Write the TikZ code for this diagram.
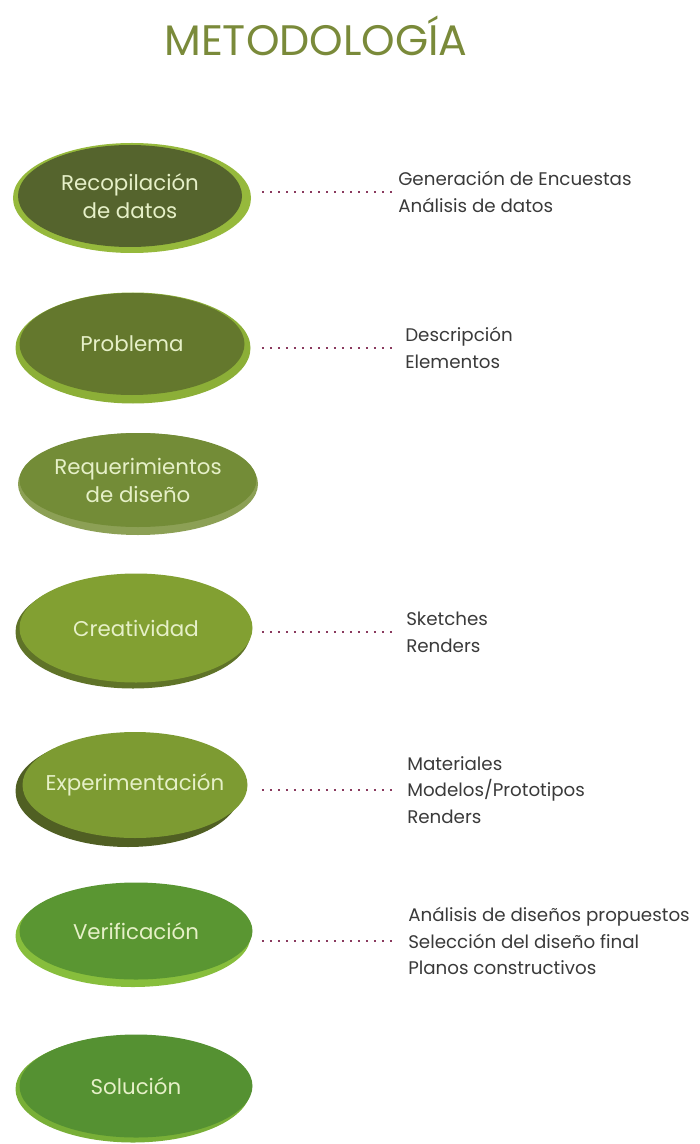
\documentclass[tikz,border=0pt]{standalone}
\usepackage{fontspec}
\setmainfont{Poppins}
\usepackage{tikz}
\usetikzlibrary{shapes.geometric}

\definecolor{titulo}{HTML}{7A8A3A}
\definecolor{txtclaro}{HTML}{E6F0C8}
\definecolor{gris}{HTML}{3A3A3A}
\definecolor{punto}{HTML}{8A3A5E}
\definecolor{recfr}{HTML}{55642D}
\definecolor{recbk}{HTML}{96B93C}
\definecolor{profr}{HTML}{64782D}
\definecolor{probk}{HTML}{8CAF37}
\definecolor{reqfr}{HTML}{738C37}
\definecolor{reqbk}{HTML}{8CA055}
\definecolor{crefr}{HTML}{82A032}
\definecolor{crebk}{HTML}{5F7328}
\definecolor{expfr}{HTML}{7D9B32}
\definecolor{expbk}{HTML}{505F23}
\definecolor{verfr}{HTML}{5A9632}
\definecolor{verbk}{HTML}{87BE3C}
\definecolor{solfr}{HTML}{559132}
\definecolor{solbk}{HTML}{78AF37}

\tikzset{
  etapa/.style={ellipse, inner xsep=-15pt, inner ysep=0pt, text=txtclaro, align=center, font=\fontsize{16}{21}\selectfont},
  fondo/.style={ellipse, inner sep=0pt},
  puntos/.style={draw=punto, line width=1.4pt, dash pattern=on 1.4pt off 4.6pt},
  lista/.style={anchor=west, align=left, inner sep=0pt, text=gris, font=\fontsize{13.7}{20}\selectfont}
}

\begin{document}
\begin{tikzpicture}[x=0.75pt,y=0.75pt,yscale=-1,xscale=1]
	\useasboundingbox (0,0) rectangle (699,1144);
	\node (titulo) at (316,36) [text=titulo, font=\fontsize{32}{32}\selectfont] {METODOLOGÍA};
	% elipses de fondo
	\node [fondo, fill=recbk, minimum width=178.5pt, minimum height=82.5pt] (recb) at (132,198) {};
	\node [fondo, fill=probk, minimum width=176.25pt, minimum height=83.25pt] (prob) at (133,348) {};
	\node [fondo, fill=reqbk, minimum width=180pt, minimum height=76.5pt] (reqb) at (138,484) {};
	\node [fondo, fill=crebk, minimum width=176.25pt, minimum height=84.75pt] (creb) at (133,632) {};
	\node [fondo, fill=expbk, minimum width=168.75pt, minimum height=84pt] (expb) at (128,791) {};
	\node [fondo, fill=verbk, minimum width=176.25pt, minimum height=76.5pt] (verb) at (133,936) {};
	\node [fondo, fill=solbk, minimum width=176.25pt, minimum height=80.25pt] (solb) at (133,1089) {};
	% etapas
	\node [etapa, fill=recfr, minimum width=168pt, minimum height=76.5pt] (rec) at (130,196) {Recopilación\\de datos};
	\node [etapa, fill=profr, minimum width=168.75pt, minimum height=76.5pt] (pro) at (132,344) {Problema};
	\node [etapa, fill=reqfr, minimum width=177.75pt, minimum height=70.5pt] (req) at (138,480) {Requerimientos\\de diseño};
	\node [etapa, fill=crefr, minimum width=174.75pt, minimum height=81.75pt] (cre) at (136,628) {Creatividad};
	\node [etapa, fill=expfr, minimum width=168.75pt, minimum height=79.5pt] (exp) at (135,785) {Experimentación};
	\node [etapa, fill=verfr, minimum width=174.75pt, minimum height=72.75pt] (ver) at (136,931) {Verificación};
	\node [etapa, fill=solfr, minimum width=174.75pt, minimum height=77.25pt] (sol) at (136,1086) {Solución};
	% listas
	\node [lista] (lrec) at (398,192) {Generación de Encuestas\\Análisis de datos};
	\node [lista] (lpro) at (405,348) {Descripción\\Elementos};
	\node [lista] (lcre) at (406,632) {Sketches\\Renders};
	\node [lista] (lexp) at (407,790) {Materiales\\Modelos/Prototipos\\Renders};
	\node [lista] (lver) at (408,941) {Análisis de diseños propuestos\\Selección del diseño final\\Planos constructivos};
	% puntos
	\draw [puntos, shorten <=15pt, shorten >=4.5pt] (rec.east |- lrec.west) -- (lrec.west);
	\draw [puntos, shorten <=12.75pt, shorten >=9.75pt] (pro.east |- lpro.west) -- (lpro.west);
	\draw [puntos, shorten <=6.75pt, shorten >=10.5pt] (cre.east |- lcre.west) -- (lcre.west);
	\draw [puntos, shorten <=10.5pt, shorten >=11.25pt] (exp.east |- lexp.west) -- (lexp.west);
	\draw [puntos, shorten <=6.75pt, shorten >=12pt] (ver.east |- lver.west) -- (lver.west);
\end{tikzpicture}
\end{document}
